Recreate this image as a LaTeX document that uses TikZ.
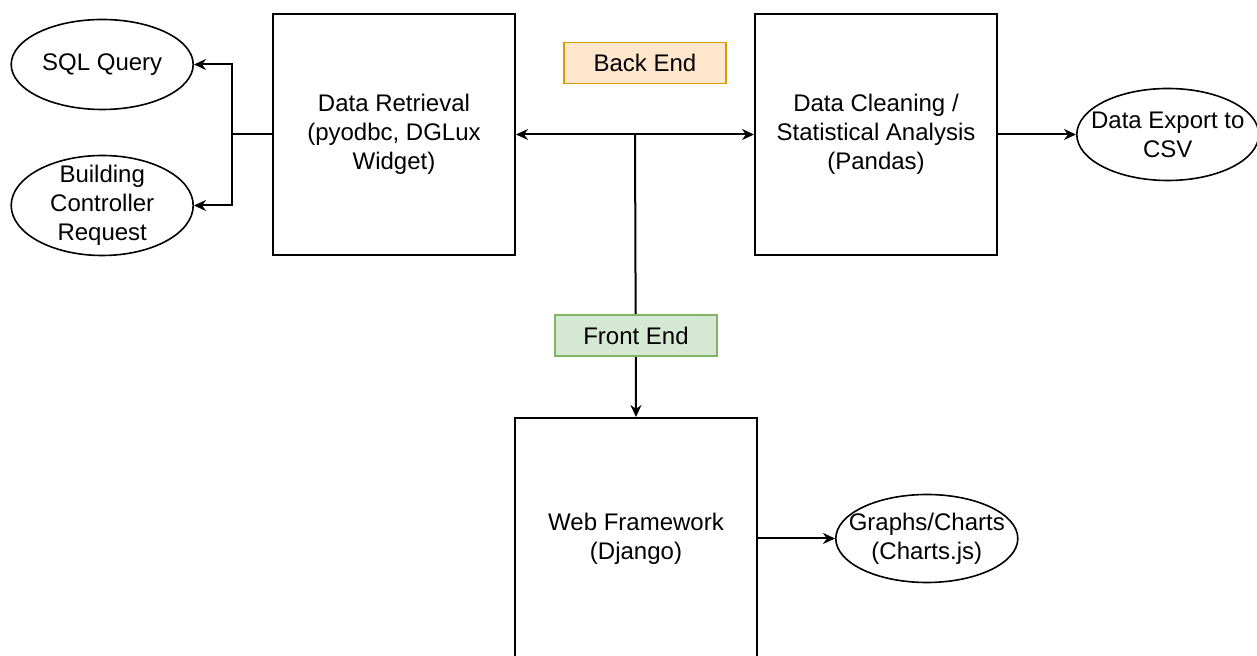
\documentclass[tikz,border=0pt]{standalone}
\usepackage{fontspec}
\setmainfont{Liberation Sans}
\usetikzlibrary{shapes,arrows,arrows.meta,positioning,calc}
\definecolor{backfill}{HTML}{FFE6CC}
\definecolor{backdraw}{HTML}{D79B00}
\definecolor{frontfill}{HTML}{D5E8D4}
\definecolor{frontdraw}{HTML}{82B366}
\tikzstyle{block} = [draw, rectangle, line width=1pt, align=center,
    minimum width=121pt, minimum height=120.5pt, inner sep=2pt,
    font=\fontsize{12}{14.5}\selectfont]
\tikzstyle{blob} = [draw, ellipse, line width=0.8pt, align=center,
    minimum width=91pt, minimum height=45pt, inner sep=-14pt,
    font=\fontsize{12}{14.5}\selectfont]
\tikzstyle{tag} = [draw, rectangle, line width=0.8pt,
    minimum width=81pt, minimum height=20.5pt, inner sep=0pt,
    font=\fontsize{12}{14.5}\selectfont]
\tikzstyle{coord} = [coordinate]
\tikzstyle{connector} = [->, line width=1pt]

\begin{document}
\begin{tikzpicture}[auto, >={Stealth[length=6pt,width=5.5pt]}, x=0.5pt, y=-0.5pt]
    \clip (0,0) rectangle (1257,656);
    \node (retrieval) [block] at (394,134.5) {Data Retrieval\\(pyodbc, DGLux\\Widget)};
    \node (cleaning) [block, right=119pt of retrieval] {Data Cleaning /\\Statistical Analysis\\(Pandas)};
    \node (web) [block, below right=80.5pt and -1pt of retrieval.south east] {Web Framework\\(Django)};

    \node (sql) [blob, left=39pt of retrieval.west, yshift=35pt] {SQL Query};
    \node (building) [blob, minimum height=50pt, left=39pt of retrieval.west, yshift=-35.5pt] {Building\\Controller\\Request};
    \node (export) [blob, right=39pt of cleaning.east, minimum height=46pt] {Data Export to\\CSV};
    \node (graphs) [blob, right=38.5pt of web.east, minimum height=44pt] {Graphs/Charts\\(Charts.js)};

    % left branch
    \node (split) [coord, left=20pt of retrieval.west] {};
    \draw [line width=1pt] (retrieval.west) -- (split);
    \draw [connector] (split) |- (sql.east);
    \draw [connector] (split) |- (building.east);

    % back end link and drop to front end
    \draw [connector, <->] (retrieval.east) -- (cleaning.west);
    \node (junction) [coord] at ($(retrieval.east)!0.5!(cleaning.west)$) {};
    \draw [connector] (junction) -- (web.north);
    \draw [connector] (cleaning.east) -- (export.west);
    \draw [connector] (web.east) -- (graphs.west);

    \node (backend) [tag, draw=backdraw, fill=backfill, above=25pt of junction, xshift=5pt] {Back End};
    \node (frontend) [tag, draw=frontdraw, fill=frontfill, above=30pt of web.north] {Front End};
\end{tikzpicture}
\end{document}
